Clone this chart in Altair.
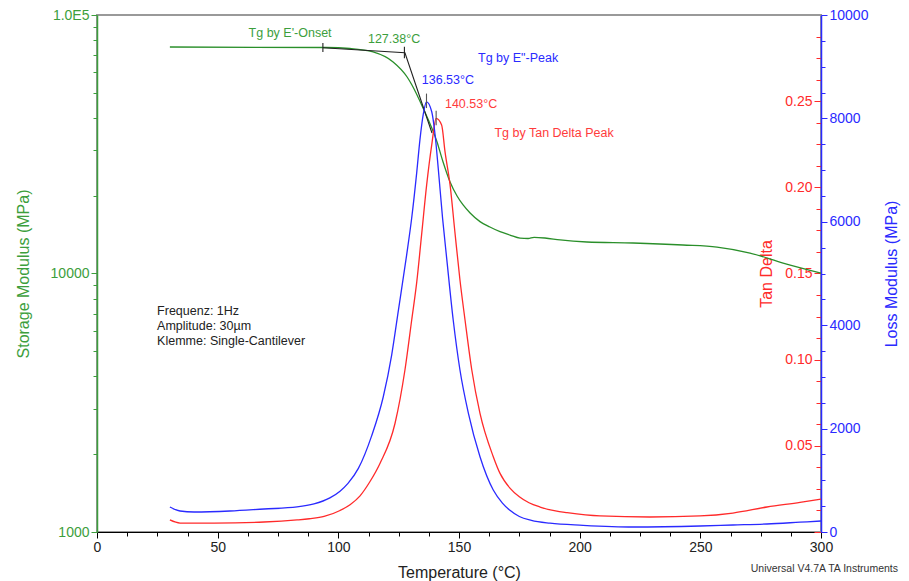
import altair as alt
import pandas as pd

FONT = "Liberation Sans"
GREEN_LINE = "#2a8f2a"
GREEN_TXT = "#3c9e3c"
RED = "#ff2a2a"
BLUE = "#2a2aff"

# ---- Storage modulus E' (MPa), log axis ----
st_T = [30.2, 94.9, 104.8, 114.4, 122.7, 128.5, 130.5, 135.1, 140.9, 143.4, 146.3, 149.2, 151.7, 154.6,
        158.7, 162.8, 167.0, 171.1, 175.3, 178.6, 181.1, 185.6, 191.9, 203.0, 222.1, 242.8, 256.9,
        270.6, 284.3, 300]
st_E = [75190, 74860, 74200, 71930, 65800, 57560, 53610, 43680, 32270, 27000, 22590, 19940, 18410, 17140,
        15870, 15130, 14510, 14090, 13700, 13660, 13800, 13720, 13480, 13240, 13120, 12890, 12660,
        12000, 10980, 10040]

# ---- Loss modulus E'' (MPa) ----
lm_T = [30.2, 34.4, 40.2, 55.1, 69.2, 82.9, 89.9, 96.5, 100.7, 104.0, 108.3, 113.8, 118.6, 122.1,
        124.9, 128.3, 130.4, 132.5, 133.8, 135.2, 136.53, 138.7, 140.1, 141.4, 143.2, 144.9, 147.6,
        150.4, 153.9, 158.7, 164.2, 168.0, 171.1, 175.0, 180.0, 187.7, 201.4, 222.1, 249.9, 263.5,
        277.6, 291.3, 300]
lm_L = [484, 406, 387, 406, 445, 484, 542, 660, 790, 940, 1230, 1860, 2611, 3423,
        4293, 5357, 6073, 6962, 7581, 8084, 8320, 8129, 7678, 7034, 6067, 5293, 4100,
        3133, 2295, 1456, 812, 560, 420, 300, 225, 170, 130, 97, 116, 135,
        155, 190, 213]

# ---- Tan Delta ----
td_T = [30.2, 34.4, 48.5, 69.2, 82.9, 88.0, 94.1, 100.7, 105.0, 109.0, 113.0, 117.3, 123.5, 127.6,
        130.4, 132.5, 134.5, 136.6, 138.7, 140.53, 142.8, 144.2, 146.3, 148.3, 150.4, 152.5, 155.3,
        158.7, 164.2, 167.0, 171.1, 175.0, 179.0, 183.6, 190.0, 194.8, 208.4, 229.1, 249.9, 263.5,
        277.6, 291.3, 300]
td_V = [0.0070, 0.0052, 0.0052, 0.0058, 0.0070, 0.0077, 0.0090, 0.0125, 0.0160, 0.0210, 0.0290, 0.0399,
        0.0631, 0.0940, 0.1230, 0.1451, 0.1724, 0.2014, 0.2246, 0.2400, 0.2362, 0.2207, 0.2014, 0.1741,
        0.1462, 0.1230, 0.0940, 0.0688, 0.0437, 0.0340, 0.0255, 0.0205, 0.0170, 0.0145, 0.0122, 0.0112,
        0.0093, 0.0087, 0.0093, 0.0110, 0.0145, 0.0172, 0.0191]

# ---- Onset construction (tangents) ----
tang_T = [93.6, 127.6, 138.8]
tang_E = [74700, 71450, 34960]
onset_tick_T = [93.6, 127.38]
onset_tick_lo = [71900, 68000]
onset_tick_hi = [77900, 75400]

# ---- Annotations ----
green_lbl_T = [80.0, 123.1]
green_lbl_E = [85100, 80770]
green_lbl = ["Tg by E'-Onset", "127.38°C"]
info_T = [24.9, 24.9, 24.9]
info_E = [7165, 6268, 5483]
info_lbl = ["Frequenz: 1Hz", "Amplitude: 30µm", "Klemme: Single-Cantilever"]
blue_lbl_T = [174.5, 145.4]
blue_lbl_L = [9167, 8742]
blue_lbl = ['Tg by E"-Peak', "136.53°C"]
red_lbl_T = [155.0, 189.4]
red_lbl_V = [0.2484, 0.2315]
red_lbl = ["140.53°C", "Tg by Tan Delta Peak"]
blue_peak_T, blue_peak_lo, blue_peak_hi = [136.53], [8200], [8480]
red_peak_T, red_peak_lo, red_peak_hi = [140.53], [0.2360], [0.2445]
credit = "Universal V4.7A TA Instruments"

# ---- Tick values ----
x_ticks = [i * 12.5 for i in range(25)]
st_ticks = [1000, 2000, 3000, 4000, 5000, 6000, 7000, 8000, 9000,
            10000, 20000, 30000, 40000, 50000, 60000, 70000, 80000, 90000, 100000]
lm_ticks = [i * 500 for i in range(21)]
td_ticks = [i * 0.0125 for i in range(25)]

W, H = 724, 517

x_scale = alt.Scale(domain=[0, 300], nice=False, zero=False)
x_axis = alt.Axis(values=x_ticks, grid=False, labelFlush=False, labelOverlap=False,
                  labelExpr="datum.value % 50 == 0 ? format(datum.value, 'd') : ''",
                  tickSize={"condition": {"test": "datum.value % 50 == 0", "value": 6}, "value": 4},
                  title="Temperature (°C)", titleFontSize=16, titleFontWeight="normal",
                  titleColor="#222222", labelColor="#222222", labelFontSize=14,
                  domainColor="#000000", tickColor="#000000", titlePadding=10, labelPadding=2)

st_scale = alt.Scale(type="log", domain=[1000, 100000], nice=False)
st_axis = alt.Axis(values=st_ticks, grid=False, labelOverlap=False, labelFlush=False,
                   labelExpr="datum.value == 100000 ? '1.0E5' : ((datum.value == 10000 || datum.value == 1000) ? format(datum.value, 'd') : '')",
                   tickSize={"condition": {"test": "datum.value == 1000 || datum.value == 10000 || datum.value == 100000", "value": 6}, "value": 4},
                   title="Storage Modulus (MPa)", titleFontSize=16, titleFontWeight="normal",
                   titleColor=GREEN_TXT, labelColor=GREEN_TXT, labelFontSize=14,
                   domainColor=GREEN_TXT, tickColor=GREEN_TXT, domainWidth=1.5, titlePadding=19,
                   orient="left")

lm_scale = alt.Scale(domain=[0, 10000], nice=False, zero=True)
lm_axis = alt.Axis(values=lm_ticks, grid=False, labelOverlap=False, labelFlush=False,
                   labelExpr="datum.value % 2000 == 0 ? format(datum.value, 'd') : ''",
                   tickSize={"condition": {"test": "datum.value % 2000 == 0", "value": 6}, "value": 4},
                   title="Loss Modulus (MPa)", titleFontSize=16, titleFontWeight="normal",
                   titleColor=BLUE, labelColor=BLUE, labelFontSize=14, titleAngle=270,
                   domainColor=BLUE, tickColor=BLUE, domainWidth=1.5, titlePadding=32,
                   orient="right")

td_scale = alt.Scale(domain=[0, 0.3], nice=False, zero=True)
td_axis = alt.Axis(values=td_ticks, grid=False, labelOverlap=False, labelFlush=False, domain=False,
                   labelExpr="(abs(datum.value*20 - round(datum.value*20)) < 0.001 && datum.value > 0.01 && datum.value < 0.29) ? format(datum.value, '.2f') : ''",
                   tickSize={"condition": {"test": "abs(datum.value*20 - round(datum.value*20)) < 0.001", "value": 7}, "value": 5},
                   title="Tan Delta", titleFontSize=16, titleFontWeight="normal",
                   titleColor=RED, labelColor=RED, labelFontSize=14,
                   tickColor=RED, titlePadding=10, orient="left", offset=-W)


def X():
    return alt.X("T:Q", scale=x_scale, axis=x_axis)


# ---------- green group ----------
def GY(f="v"):
    return alt.Y(f + ":Q", scale=st_scale, axis=st_axis)


g_line = alt.Chart(pd.DataFrame({"T": st_T, "v": st_E})).mark_line(
    color=GREEN_LINE, strokeWidth=1.3, interpolate="monotone").encode(x=X(), y=GY())
g_tang = alt.Chart(pd.DataFrame({"T": tang_T, "v": tang_E})).mark_line(
    color="#222222", strokeWidth=1.1).encode(x=X(), y=GY())
g_ticks = alt.Chart(pd.DataFrame({"T": onset_tick_T, "v": onset_tick_lo, "v2": onset_tick_hi})).mark_rule(
    color="#222222", strokeWidth=1.1).encode(x=X(), y=GY(), y2="v2:Q")
g_text = alt.Chart(pd.DataFrame({"T": green_lbl_T, "v": green_lbl_E, "t": green_lbl})).mark_text(
    font=FONT, fontSize=12.5, color=GREEN_TXT, align="center", baseline="middle").encode(
    x=X(), y=GY(), text="t:N")
g_info = alt.Chart(pd.DataFrame({"T": info_T, "v": info_E, "t": info_lbl})).mark_text(
    font=FONT, fontSize=12.5, color="#222222", align="left", baseline="middle").encode(
    x=X(), y=GY(), text="t:N")
green = alt.layer(g_line, g_tang, g_ticks, g_text, g_info)


# ---------- blue group ----------
def BY(f="v"):
    return alt.Y(f + ":Q", scale=lm_scale, axis=lm_axis)


b_line = alt.Chart(pd.DataFrame({"T": lm_T, "v": lm_L})).mark_line(
    color=BLUE, strokeWidth=1.3, interpolate="monotone").encode(x=X(), y=BY())
b_tick = alt.Chart(pd.DataFrame({"T": blue_peak_T, "v": blue_peak_lo, "v2": blue_peak_hi})).mark_rule(
    color="#555555", strokeWidth=1.1).encode(x=X(), y=BY(), y2="v2:Q")
b_text = alt.Chart(pd.DataFrame({"T": blue_lbl_T, "v": blue_lbl_L, "t": blue_lbl})).mark_text(
    font=FONT, fontSize=12.5, color=BLUE, align="center", baseline="middle").encode(
    x=X(), y=BY(), text="t:N")
blue = alt.layer(b_line, b_tick, b_text)


# ---------- red group ----------
def RY(f="v"):
    return alt.Y(f + ":Q", scale=td_scale, axis=td_axis)


r_line = alt.Chart(pd.DataFrame({"T": td_T, "v": td_V})).mark_line(
    color=RED, strokeWidth=1.3, interpolate="monotone").encode(x=X(), y=RY())
r_tick = alt.Chart(pd.DataFrame({"T": red_peak_T, "v": red_peak_lo, "v2": red_peak_hi})).mark_rule(
    color="#555555", strokeWidth=1.1).encode(x=X(), y=RY(), y2="v2:Q")
r_text = alt.Chart(pd.DataFrame({"T": red_lbl_T, "v": red_lbl_V, "t": red_lbl})).mark_text(
    font=FONT, fontSize=12.5, color="#ff3b3b", align="center", baseline="middle").encode(
    x=X(), y=RY(), text="t:N")
red = alt.layer(r_line, r_tick, r_text)

credit_layer = alt.Chart(pd.DataFrame({"t": [credit]})).mark_text(
    font=FONT, fontSize=10.5, color="#333333", align="right", baseline="middle").encode(
    x=alt.value(801), y=alt.value(554), text="t:N")

chart = alt.layer(green, red, blue, credit_layer).resolve_scale(
    y="independent").resolve_axis(y="independent").properties(
    width=W, height=H, autosize="none",
    padding={"left": 97, "top": 15, "right": 88, "bottom": 49},
    background="white",
).configure(font=FONT).configure_view(stroke="#999999", strokeWidth=2)

chart.save("out.html", embed_options={"renderer": "svg", "actions": False})
